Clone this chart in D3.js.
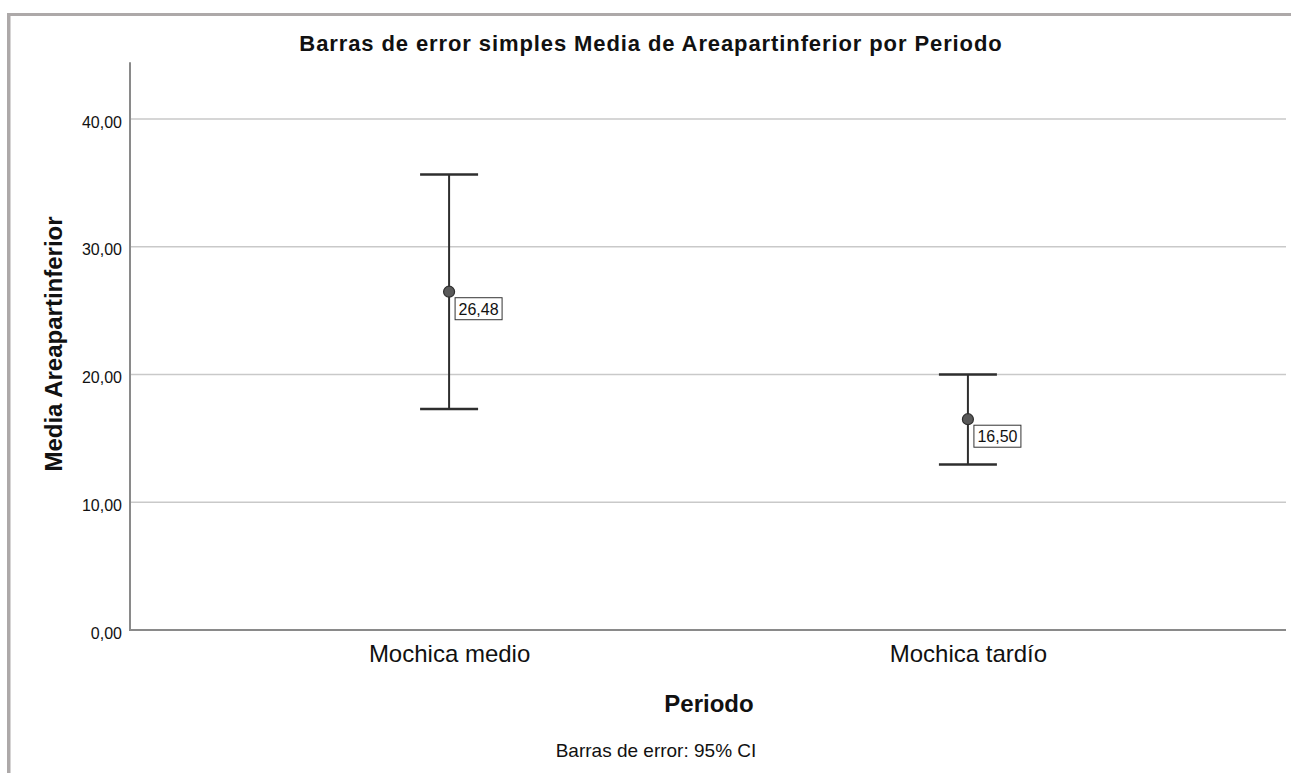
<!DOCTYPE html>
<html>
<head>
<meta charset="utf-8">
<script src="https://cdn.jsdelivr.net/npm/d3@7"></script>
<style>
  body { margin: 0; background: #fff; }
  text { font-family: "Liberation Sans", Arial, sans-serif; fill: #111; }
</style>
</head>
<body>
<script>
// data
var categories = ["Mochica medio", "Mochica tardío"];
var means = [26.48, 16.50];
var lower = [17.30, 12.95];
var upper = [35.65, 20.00];
var yTicks = [0, 10, 20, 30, 40];

var width = 1291, height = 773;

var svg = d3.select("body").append("svg")
    .attr("width", width)
    .attr("height", height);

// frame (left + top only)
svg.append("rect").attr("x", 7).attr("y", 13).attr("width", width).attr("height", 3).attr("fill", "#ada9a9");
svg.append("rect").attr("x", 7).attr("y", 13).attr("width", 3.5).attr("height", height).attr("fill", "#ada9a9");

var y = d3.scaleLinear().domain([0, 40]).range([630, 119]);
var x = d3.scalePoint().domain(categories).range([130, 1287]).padding(0.615);

// gridlines
svg.append("g")
  .selectAll("line")
  .data(yTicks.filter(function(d) { return d > 0; }))
  .enter().append("line")
    .attr("x1", 130).attr("x2", 1286)
    .attr("y1", function(d) { return y(d); })
    .attr("y2", function(d) { return y(d); })
    .attr("stroke", "#c9c9c9")
    .attr("stroke-width", 1.5);

// y axis
var yAxis = d3.axisLeft(y)
    .tickValues(yTicks)
    .tickSize(0)
    .tickPadding(8)
    .tickFormat(function(d) { return d3.format(".2f")(d).replace(".", ","); });

var gy = svg.append("g").attr("transform", "translate(130,0)").call(yAxis);
gy.select(".domain").remove();
gy.selectAll("text")
  .attr("dy", "0.5em")
  .style("font-family", "'Liberation Sans', Arial, sans-serif")
  .style("font-size", "16px")
  .attr("fill", "#222");

// axis lines
svg.append("line")
  .attr("x1", 130).attr("x2", 130)
  .attr("y1", y(44.45)).attr("y2", y(0))
  .attr("stroke", "#8a8a8a").attr("stroke-width", 2);
svg.append("line")
  .attr("x1", 129).attr("x2", 1286)
  .attr("y1", y(0)).attr("y2", y(0))
  .attr("stroke", "#8a8a8a").attr("stroke-width", 2);

// x axis labels
var xAxis = d3.axisBottom(x).tickSize(0);
var gx = svg.append("g").attr("transform", "translate(0," + y(0) + ")").call(xAxis);
gx.select(".domain").remove();
gx.selectAll("text")
  .attr("y", 32).attr("dy", 0)
  .style("font-family", "'Liberation Sans', Arial, sans-serif")
  .style("font-size", "24px")
  .attr("fill", "#222");

// error bars
var bars = svg.append("g").selectAll("g")
  .data(categories)
  .enter().append("g");

bars.append("line")
  .attr("x1", function(d) { return x(d); })
  .attr("x2", function(d) { return x(d); })
  .attr("y1", function(d, i) { return y(upper[i]); })
  .attr("y2", function(d, i) { return y(lower[i]); })
  .attr("stroke", "#2e2e2e").attr("stroke-width", 2);

[upper, lower].forEach(function(arr) {
  bars.append("line")
    .attr("x1", function(d) { return x(d) - 29; })
    .attr("x2", function(d) { return x(d) + 29; })
    .attr("y1", function(d, i) { return y(arr[i]); })
    .attr("y2", function(d, i) { return y(arr[i]); })
    .attr("stroke", "#2e2e2e").attr("stroke-width", 2.5);
});

bars.append("circle")
  .attr("cx", function(d) { return x(d); })
  .attr("cy", function(d, i) { return y(means[i]); })
  .attr("r", 5.5)
  .attr("fill", "#595959")
  .attr("stroke", "#2e2e2e")
  .attr("stroke-width", 1.2);

// value labels
bars.append("rect")
  .attr("x", function(d) { return x(d) + 6; })
  .attr("y", function(d, i) { return y(means[i]) + 6; })
  .attr("width", 47).attr("height", 22)
  .attr("fill", "#fff").attr("stroke", "#333").attr("stroke-width", 1);

bars.append("text")
  .attr("x", function(d) { return x(d) + 29.5; })
  .attr("y", function(d, i) { return y(means[i]) + 23; })
  .attr("text-anchor", "middle")
  .style("font-size", "16px")
  .text(function(d, i) { return d3.format(".2f")(means[i]).replace(".", ","); });

// titles
svg.append("text")
  .attr("x", 651).attr("y", 51)
  .attr("text-anchor", "middle")
  .style("font-size", "22px").style("font-weight", "bold")
  .style("letter-spacing", "0.9px")
  .text("Barras de error simples Media de Areapartinferior por Periodo");

svg.append("text")
  .attr("transform", "translate(62,344) rotate(-90)")
  .attr("text-anchor", "middle")
  .style("font-size", "24px").style("font-weight", "bold")
  .text("Media Areapartinferior");

svg.append("text")
  .attr("x", 709).attr("y", 712)
  .attr("text-anchor", "middle")
  .style("font-size", "24px").style("font-weight", "bold")
  .text("Periodo");

svg.append("text")
  .attr("x", 656).attr("y", 757)
  .attr("text-anchor", "middle")
  .style("font-size", "19px")
  .attr("fill", "#222")
  .text("Barras de error: 95% CI");
</script>
</body>
</html>
